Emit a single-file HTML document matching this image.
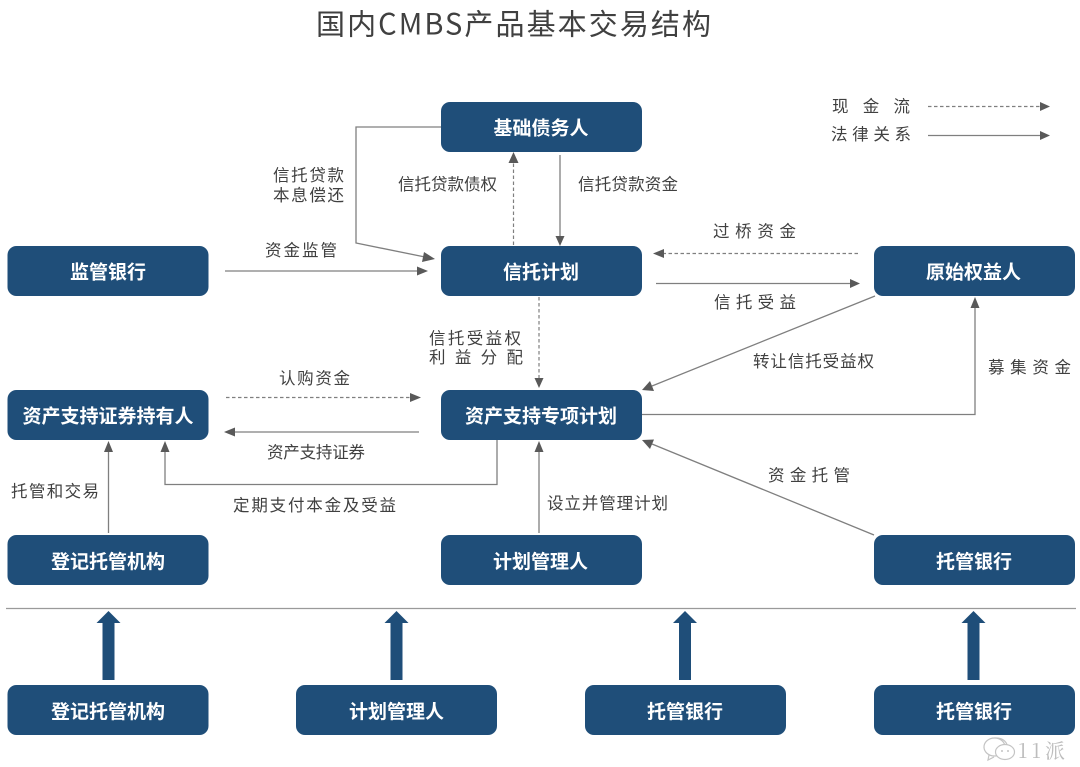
<!DOCTYPE html>
<html lang="zh-CN">
<head>
<meta charset="utf-8">
<title>国内CMBS产品基本交易结构</title>
<style>
html,body{margin:0;padding:0;background:#fff;}
svg{display:block;}
text{font-family:"Liberation Sans","Noto Sans CJK SC",sans-serif;}
.t{font-family:"Noto Sans CJK SC",sans-serif;font-size:29px;fill:#404040;}
.l{font-family:"Noto Sans CJK SC",sans-serif;font-size:16.500px;fill:#404040;dominant-baseline:central;}
.b{font-family:"Noto Sans CJK SC",sans-serif;font-size:19px;font-weight:700;fill:#fff;text-anchor:middle;dominant-baseline:central;}
.c{fill:none;stroke:#7f7f7f;stroke-width:1.3;}
.d{fill:none;stroke:#7f7f7f;stroke-width:1.2;stroke-dasharray:3.5 2.5;}
.h{fill:#595959;}
.n{fill:#1f4e79;}
.a{fill:#1f4e79;}
</style>
</head>
<body>
<svg width="1080" height="767" viewBox="0 0 1080 767" xmlns="http://www.w3.org/2000/svg">
<text class="t" x="316" y="34.500" textLength="395" lengthAdjust="spacing">国内CMBS产品基本交易结构</text>

<!-- boxes -->
<rect class="n" x="441" y="102" width="201" height="50" rx="9"/>
<rect class="n" x="441" y="246" width="201" height="50" rx="9"/>
<rect class="n" x="7.500" y="246" width="201" height="50" rx="9"/>
<rect class="n" x="874" y="246" width="201" height="50" rx="9"/>
<rect class="n" x="7.500" y="390" width="201" height="50" rx="9"/>
<rect class="n" x="441" y="390" width="201" height="50" rx="9"/>
<rect class="n" x="7.500" y="535" width="201" height="50" rx="9"/>
<rect class="n" x="441" y="535" width="201" height="50" rx="9"/>
<rect class="n" x="874" y="535" width="201" height="50" rx="9"/>
<rect class="n" x="7.500" y="685" width="201" height="50" rx="9"/>
<rect class="n" x="296" y="685" width="201" height="50" rx="9"/>
<rect class="n" x="585" y="685" width="201" height="50" rx="9"/>
<rect class="n" x="874" y="685" width="201" height="50" rx="9"/>

<text class="b" x="541" y="127">基础债务人</text>
<text class="b" x="541" y="271">信托计划</text>
<text class="b" x="108" y="271">监管银行</text>
<text class="b" x="973.500" y="271">原始权益人</text>
<text class="b" x="108" y="415">资产支持证券持有人</text>
<text class="b" x="541" y="415">资产支持专项计划</text>
<text class="b" x="108" y="560.500">登记托管机构</text>
<text class="b" x="540.500" y="560.500">计划管理人</text>
<text class="b" x="974" y="560.500">托管银行</text>
<text class="b" x="108" y="710.500">登记托管机构</text>
<text class="b" x="396.500" y="710.500">计划管理人</text>
<text class="b" x="685" y="710.500">托管银行</text>
<text class="b" x="974" y="710.500">托管银行</text>

<!-- connectors -->
<polyline class="c" points="441,127 356,127 356,243 425,257"/>
<polygon class="h" points="435,259 424,252 422,262"/>
<line class="c" x1="225" y1="271" x2="418" y2="271"/>
<polygon class="h" points="428,271 417,266.500 417,275.500"/>
<line class="d" x1="513.500" y1="245" x2="513.500" y2="162"/>
<polygon class="h" points="513.500,152 508.500,163 518.500,163"/>
<line class="c" x1="560" y1="155" x2="560" y2="237"/>
<polygon class="h" points="560,246 555.500,236 564.500,236"/>
<line class="d" x1="858" y1="253.500" x2="663" y2="253.500"/>
<polygon class="h" points="653,253.500 664,249 664,258"/>
<line class="c" x1="656" y1="283.500" x2="851" y2="283.500"/>
<polygon class="h" points="860,283.500 850,279 850,288"/>
<line class="d" x1="539" y1="297" x2="539" y2="379"/>
<polygon class="h" points="539,388 534.500,378 543.500,378"/>
<line class="c" x1="875" y1="296" x2="652" y2="386"/>
<polygon class="h" points="642,390 650,381 654,391"/>
<polyline class="c" points="642,414.500 975,414.500 975,307"/>
<polygon class="h" points="975,297 970.500,308 979.500,308"/>
<line class="c" x1="874" y1="535" x2="652" y2="444"/>
<polygon class="h" points="642,440 654,439.500 650,449"/>
<line class="c" x1="539" y1="533" x2="539" y2="451"/>
<polygon class="h" points="539,441 534.500,452 543.500,452"/>
<line class="d" x1="226" y1="397.500" x2="411" y2="397.500"/>
<polygon class="h" points="421,397.500 410,393 410,402"/>
<line class="c" x1="419" y1="432" x2="234" y2="432"/>
<polygon class="h" points="224,432 235,427.500 235,436.500"/>
<polyline class="c" points="497,440 497,484.500 165,484.500 165,451"/>
<polygon class="h" points="165,441 160.500,452 169.500,452"/>
<line class="c" x1="108.500" y1="533" x2="108.500" y2="451"/>
<polygon class="h" points="108.500,441 104,452 113,452"/>

<!-- legend -->
<line class="d" x1="928" y1="106.500" x2="1041" y2="106.500" stroke-dasharray="3 2"/>
<polygon class="h" points="1050,106.500 1040,102 1040,111"/>
<line class="c" x1="928" y1="135.500" x2="1041" y2="135.500"/>
<polygon class="h" points="1050,135.500 1040,131 1040,140"/>

<!-- divider -->
<line x1="6" y1="608.500" x2="1076" y2="608.500" stroke="#9a9a9a" stroke-width="1.3"/>

<!-- block arrows -->
<polygon class="a" points="108.500,611 120.500,623 114.500,623 114.500,680 102.500,680 102.500,623 96.500,623"/>
<polygon class="a" points="396.500,611 408.500,623 402.500,623 402.500,680 390.500,680 390.500,623 384.500,623"/>
<polygon class="a" points="685,611 697,623 691,623 691,680 679,680 679,623 673,623"/>
<polygon class="a" points="973.500,611 985.500,623 979.500,623 979.500,680 967.500,680 967.500,623 961.500,623"/>

<!-- labels -->
<text class="l" x="273" y="174" textLength="71" lengthAdjust="spacing">信托贷款</text>
<text class="l" x="273" y="194" textLength="71" lengthAdjust="spacing">本息偿还</text>
<text class="l" x="398" y="183" textLength="99" lengthAdjust="spacing">信托贷款债权</text>
<text class="l" x="578" y="183" textLength="100" lengthAdjust="spacing">信托贷款资金</text>
<text class="l" x="265" y="249" textLength="72" lengthAdjust="spacing">资金监管</text>
<text class="l" x="713" y="230" textLength="83" lengthAdjust="spacing">过桥资金</text>
<text class="l" x="714" y="301" textLength="82" lengthAdjust="spacing">信托受益</text>
<text class="l" x="832" y="105" textLength="78" lengthAdjust="spacing">现金流</text>
<text class="l" x="831" y="133" textLength="80" lengthAdjust="spacing">法律关系</text>
<text class="l" x="429" y="337" textLength="92" lengthAdjust="spacing">信托受益权</text>
<text class="l" x="429" y="356" textLength="94" lengthAdjust="spacing">利益分配</text>
<text class="l" x="753" y="360" textLength="121" lengthAdjust="spacing">转让信托受益权</text>
<text class="l" x="988" y="366" textLength="83" lengthAdjust="spacing">募集资金</text>
<text class="l" x="279" y="377" textLength="71" lengthAdjust="spacing">认购资金</text>
<text class="l" x="267" y="451" textLength="98" lengthAdjust="spacing">资产支持证券</text>
<text class="l" x="11" y="490" textLength="88" lengthAdjust="spacing">托管和交易</text>
<text class="l" x="233" y="504" textLength="163" lengthAdjust="spacing">定期支付本金及受益</text>
<text class="l" x="547" y="502" textLength="121" lengthAdjust="spacing">设立并管理计划</text>
<text class="l" x="768" y="474" textLength="82" lengthAdjust="spacing">资金托管</text>

<!-- watermark -->
<path d="M984 748 C984 741 990 738 996 738 C1002 738 1006 741 1007 745 M989 755 L988 760 L994 757" fill="none" stroke="#c4c4c4" stroke-width="1.200"/>
<ellipse cx="994.500" cy="747" rx="10.500" ry="9" fill="#fff" stroke="#c4c4c4" stroke-width="1.200"/>
<ellipse cx="1005" cy="752" rx="9.500" ry="7.500" fill="#fff" stroke="#c4c4c4" stroke-width="1.200"/>
<circle cx="1002" cy="751" r="1" fill="#c4c4c4"/>
<circle cx="1008" cy="751" r="1" fill="#c4c4c4"/>
<text x="1018" y="758" font-size="20" fill="#bdbdbd" style="font-family:'Noto Serif CJK SC',serif" textLength="47" lengthAdjust="spacing">11派</text>
</svg>
</body>
</html>
